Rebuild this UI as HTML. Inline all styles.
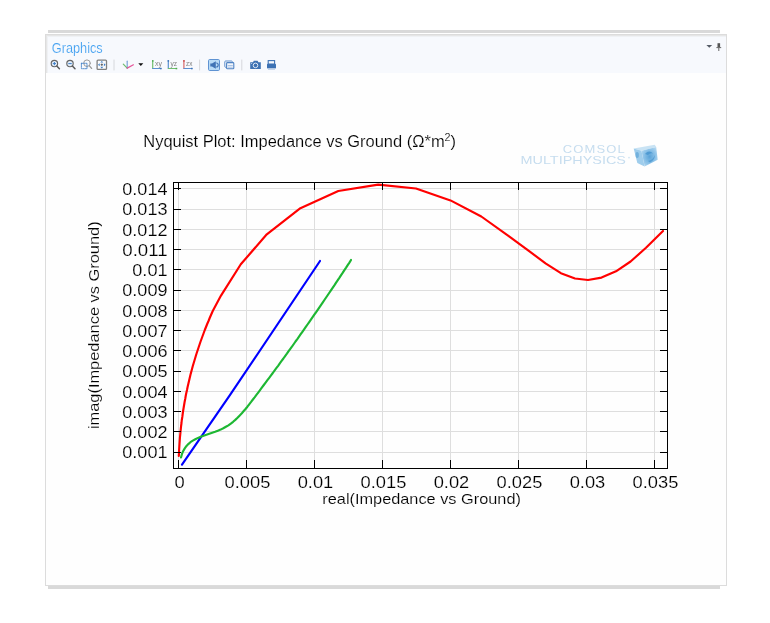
<!DOCTYPE html>
<html><head><meta charset="utf-8"><style>
html,body{margin:0;padding:0;background:#fff;width:770px;height:623px;overflow:hidden;position:relative;font-family:"Liberation Sans",sans-serif}
.topbar{position:absolute;left:48px;top:30px;width:672px;height:3px;background:#d9d9d9}
.botbar{position:absolute;left:48px;top:586px;width:672px;height:3px;background:#d9d9d9}
.panel{position:absolute;left:45px;top:34px;width:680px;height:550px;border:1px solid #dcdcdc;background:#fefefe}
.hdr{position:absolute;left:0;top:0;width:679px;height:37px;background:#f7f9fd;border-top:1px solid #e6e6e6;border-left:1px solid #e6e6e6;box-shadow:inset 1px 1px 0 #eff1f4}
</style></head><body>
<div class="topbar"></div>
<div class="panel"><div class="hdr"></div></div>
<div class="botbar"></div>
<svg width="770" height="623" viewBox="0 0 770 623" style="position:absolute;left:0;top:0;will-change:transform">

<g fill="none" stroke-linecap="round">
 <!-- zoom in -->
 <circle cx="54.4" cy="63.6" r="3.2" fill="#e3eefa" stroke="#666" stroke-width="1.15"/>
 <path d="M56.8 66.1 L59.4 68.8" stroke="#5c5c5c" stroke-width="1.5"/>
 <path d="M54.4 62.4 V64.8 M53.2 63.6 H55.6" stroke="#3f7fc8" stroke-width="1"/>
 <!-- zoom out -->
 <circle cx="70" cy="63.6" r="3.2" fill="#e3eefa" stroke="#666" stroke-width="1.15"/>
 <path d="M72.4 66.1 L75 68.8" stroke="#5c5c5c" stroke-width="1.5"/>
 <path d="M68.7 63.6 H71.3" stroke="#3f7fc8" stroke-width="1"/>
 <!-- zoom box -->
 <circle cx="87" cy="63.2" r="3.3" stroke="#9a9a9a" stroke-width="1"/>
 <path d="M89.4 65.8 L91.6 68.4" stroke="#999" stroke-width="1.3"/>
 <rect x="81.4" y="63.3" width="5.6" height="5.4" stroke="#4a86c8" stroke-width="0.9" stroke-dasharray="1.4 0.9"/>
 <!-- zoom extents -->
 <rect x="97.1" y="60.1" width="9.4" height="9.2" rx="0.9" fill="#fbfcfe" stroke="#808080" stroke-width="1.3"/>
 <path d="M101.8 63.9 V65.5 M101 64.7 H102.6" stroke="#555" stroke-width="0.9"/>
 <g fill="#3a7cc6" stroke="none">
  <path d="M100.3 62.6 L101.8 60.9 L103.3 62.6Z"/><path d="M100.3 66.8 L101.8 68.5 L103.3 66.8Z"/>
  <path d="M99.7 63.2 L98 64.7 L99.7 66.2Z"/><path d="M103.9 63.2 L105.6 64.7 L103.9 66.2Z"/>
 </g>
 <!-- separators -->
 <path d="M114 60 V70 M199.6 60 V70 M241.8 60 V70" stroke="#d6d8dc" stroke-width="1"/>
 <!-- axes -->
 <path d="M127.2 68.1 V61.2" stroke="#7aa4d8" stroke-width="1.2"/>
 <path d="M127.2 68.1 L123.3 64.2" stroke="#6dbb6d" stroke-width="1.2"/>
 <path d="M127.2 68.1 L133.4 64.8" stroke="#e6559a" stroke-width="1.2"/>
 <path d="M138.3 63.2 H143.3 L140.8 65.9Z" fill="#111" stroke="none"/>
 <!-- xy yz zx -->
 <path d="M152.7 60.6 V68.5" stroke="#6fbf6f" stroke-width="1.2"/><path d="M152.7 68.5 H161" stroke="#5a8fd0" stroke-width="1"/>
 <path d="M168.3 60.6 V68.5" stroke="#5a8fd0" stroke-width="1.2"/><path d="M168.3 68.5 H176.7" stroke="#6fbf6f" stroke-width="1"/>
 <path d="M183.9 60.6 V68.5" stroke="#d86a6a" stroke-width="1.2"/><path d="M183.9 68.5 H192" stroke="#5a8fd0" stroke-width="1"/>
</g>
<g font-family="Liberation Sans, sans-serif" font-size="7.2" fill="#808080">
 <text x="154.9" y="65.9" textLength="7" lengthAdjust="spacingAndGlyphs">xy</text>
 <text x="170.4" y="65.9" textLength="6.6" lengthAdjust="spacingAndGlyphs">yz</text>
 <text x="186.1" y="65.9" textLength="6.4" lengthAdjust="spacingAndGlyphs">zx</text>
</g>
<g stroke="none">
 <rect x="152" y="60.2" width="1.5" height="1.5" fill="#4fa84f"/><rect x="160" y="67.8" width="1.6" height="1.5" fill="#3d74b8"/>
 <rect x="167.6" y="60.2" width="1.5" height="1.5" fill="#3d74b8"/><rect x="175.6" y="67.8" width="1.6" height="1.5" fill="#4fa84f"/>
 <rect x="183.2" y="60.2" width="1.5" height="1.5" fill="#c84848"/><rect x="191" y="67.8" width="1.6" height="1.5" fill="#3d74b8"/>
</g>
<!-- selected toggle -->
<rect x="208.5" y="59.5" width="11" height="11" rx="1.2" fill="#b9dcf7" stroke="#5f93d2" stroke-width="1"/>
<path d="M210.3 63.4 H212 L215.8 61.3 V68.7 L212 66.6 H210.3Z" fill="#3f73b5"/>
<path d="M216.2 63 A2 2 0 0 1 216.2 67" fill="none" stroke="#3f73b5" stroke-width="1.1"/>
<!-- stacked windows -->
<rect x="224.8" y="61" width="7.5" height="6.3" rx="0.8" fill="none" stroke="#5f8fcc" stroke-width="1"/>
<rect x="226.6" y="62.6" width="7.2" height="6.2" rx="0.8" fill="#f4f7fc" stroke="#4f83c4" stroke-width="1.1"/>
<path d="M227.8 65.5 H232.8 M227.8 67.2 H232.8" stroke="#9bb8de" stroke-width="0.8"/>
<!-- camera -->
<path d="M250.2 62.3 H253 L253.8 60.8 H257.6 L258.4 62.3 H260.8 V68.9 H250.2Z" fill="#3d72b4"/>
<circle cx="255.5" cy="65.4" r="2.3" fill="none" stroke="#dfe9f5" stroke-width="1"/>
<circle cx="251.6" cy="63.5" r="0.5" fill="#dfe9f5"/>
<!-- printer -->
<rect x="268.2" y="60.6" width="6.4" height="3.6" fill="none" stroke="#3d72b4" stroke-width="1.1"/>
<rect x="267" y="63.8" width="9" height="4.8" rx="0.8" fill="#3d72b4"/>
<rect x="268" y="68.4" width="7" height="1.6" fill="#c7d6ea"/>
<!-- top right -->
<path d="M706.4 44.9 H712.2 L709.3 47.8Z" fill="#555b66"/>
<rect x="717.5" y="43.2" width="2.6" height="4" fill="#555"/>
<path d="M716.4 47.6 H721.2 M718.8 47.6 V51" stroke="#666" stroke-width="1"/>

<text x="51.8" y="53.3" font-family="Liberation Sans, sans-serif" font-size="14" fill="#42a0f0" stroke="#f7f9fd" stroke-width="0.15" textLength="50.9" lengthAdjust="spacingAndGlyphs">Graphics</text>

<g fill="#c6ddef" font-family="Liberation Sans, sans-serif">
 <text x="562.7" y="152.6" font-size="11" textLength="63.3" lengthAdjust="spacingAndGlyphs" style="letter-spacing:1px">COMSOL</text>
 <text x="520.5" y="164.3" font-size="11" textLength="105.5" lengthAdjust="spacingAndGlyphs">MULTIPHYSICS</text>
 <circle cx="629" cy="157.6" r="0.9" fill="#d3e5f3"/>
</g>
<defs><radialGradient id="cg" cx="0.5" cy="0.5" r="0.6"><stop offset="0" stop-color="#5aa3d8"/><stop offset="0.6" stop-color="#8cc2e8"/><stop offset="1" stop-color="#b5d8f0"/></radialGradient></defs>
<path d="M633.7 148.4 L654.7 144.8 L656.2 147 L641.5 150.8Z" fill="#c9e3f4"/>
<path d="M633.7 148.4 L641.5 150.8 L644.6 166.4 L637.3 163.1Z" fill="#9fcdec"/>
<path d="M641.5 150.8 L656.2 147 L657.7 159.8 L644.6 166.4Z" fill="url(#cg)"/>
<ellipse cx="637.2" cy="155" rx="1.7" ry="3" fill="#4f9bd2" opacity="0.55"/>
<path d="M645 154 Q649 149.5 653 153.5 Q650 152.5 648 155Z" fill="#3d8fcc" opacity="0.7"/>
<path d="M648 161 Q653 160 655 155 Q655 160 650 162.5Z" fill="#3d8fcc" opacity="0.6"/>

<path d="M178.5 183 V468 M246.5 183 V468 M314.5 183 V468 M382.5 183 V468 M450.5 183 V468 M518.5 183 V468 M586.5 183 V468 M654.5 183 V468 M174 188.5 H667 M174 209.5 H667 M174 229.5 H667 M174 249.5 H667 M174 269.5 H667 M174 290.5 H667 M174 310.5 H667 M174 330.5 H667 M174 350.5 H667 M174 371.5 H667 M174 391.5 H667 M174 411.5 H667 M174 431.5 H667 M174 452.5 H667" stroke="#dedede" stroke-width="1" fill="none" shape-rendering="crispEdges"/>
<polyline points="178.8,456.0 179.0,453.0 179.1,450.0 179.3,447.0 179.5,444.0 179.7,441.0 179.9,438.0 180.2,435.0 180.5,432.0 180.8,429.0 181.1,426.0 181.5,423.0 181.8,420.0 182.3,417.0 182.7,414.0 183.1,411.0 183.6,408.0 184.1,405.0 184.6,402.0 185.2,399.0 185.7,396.0 186.3,393.0 187.0,390.0 187.6,387.0 188.3,384.0 189.0,381.0 189.7,378.0 190.4,375.0 191.2,372.0 192.0,369.0 192.8,366.0 193.7,363.0 194.6,360.0 195.5,357.0 196.4,354.0 197.4,351.0 198.4,348.0 199.4,345.0 200.4,342.0 201.5,339.0 202.6,336.0 203.7,333.0 204.8,330.0 206.0,327.0 207.2,324.0 208.5,321.0 209.7,318.0 211.0,315.0 212.3,312.0 213.0,310.6 221.0,295.6 240.8,264.3 266.8,234.3 300.4,208.2 338.3,191.0 378.2,184.6 416.0,188.5 450.5,200.4 481.3,216.5 509.1,236.4 529.5,251.4 545.9,263.6 560.9,273.2 575.0,278.5 588.0,280.0 601.5,277.6 616.0,271.3 630.6,261.5 646.0,247.8 663.0,230.9" stroke="#ff0000" stroke-width="2.15" fill="none" stroke-linejoin="round" stroke-linecap="round"/>
<polyline points="182.0,464.7 229.9,395.2 320.0,261.0" stroke="#0000ff" stroke-width="2.15" fill="none" stroke-linecap="round"/>
<polyline points="181.0,457.5 181.9,454.2 183.1,451.2 184.6,448.6 186.3,446.2 188.3,444.1 190.4,442.2 192.8,440.6 195.3,439.2 198.0,437.9 200.7,436.8 203.6,435.7 206.4,434.8 209.3,433.8 212.2,432.8 215.1,431.8 217.9,430.7 220.6,429.6 223.3,428.3 225.9,426.8 228.4,425.3 230.8,423.6 233.1,421.8 235.3,419.9 237.5,417.8 239.5,415.7 241.6,413.6 243.5,411.3 245.5,409.0 247.4,406.7 249.2,404.3 251.1,401.9 252.9,399.5 254.8,397.1 256.6,394.7 258.4,392.3 260.2,389.9 262.0,387.4 263.8,385.0 265.6,382.6 267.4,380.2 269.2,377.8 271.0,375.4 272.8,373.0 274.5,370.6 276.3,368.2 278.1,365.8 279.8,363.3 281.6,360.9 283.4,358.5 285.1,356.1 286.9,353.7 288.6,351.2 290.3,348.8 292.1,346.4 293.8,344.0 295.5,341.5 297.3,339.1 299.0,336.7 300.7,334.2 302.4,331.8 304.1,329.4 305.8,326.9 307.5,324.5 309.2,322.1 310.9,319.6 312.6,317.2 314.3,314.7 316.0,312.3 317.7,309.8 319.4,307.3 321.1,304.9 322.8,302.4 324.4,300.0 326.1,297.5 327.8,295.0 329.5,292.5 331.1,290.1 332.8,287.6 334.5,285.1 336.1,282.6 337.8,280.1 339.5,277.6 341.1,275.1 342.8,272.6 344.4,270.1 346.1,267.6 347.7,265.1 349.4,262.6 351.0,260.0" stroke="#1db733" stroke-width="2.15" fill="none" stroke-linejoin="round" stroke-linecap="round"/>
<path d="M173.5 182 V469 M173 468.5 H668 M667.5 182 V469 M173 182.5 H668" stroke="#000" stroke-width="1" fill="none" shape-rendering="crispEdges"/>
<path d="M178.5 468 v-8 M178.5 183 v7 M246.5 468 v-8 M246.5 183 v7 M314.5 468 v-8 M314.5 183 v7 M382.5 468 v-8 M382.5 183 v7 M450.5 468 v-8 M450.5 183 v7 M518.5 468 v-8 M518.5 183 v7 M586.5 468 v-8 M586.5 183 v7 M654.5 468 v-8 M654.5 183 v7 M174 188.5 h7 M667 188.5 h-7 M174 209.5 h7 M667 209.5 h-7 M174 229.5 h7 M667 229.5 h-7 M174 249.5 h7 M667 249.5 h-7 M174 269.5 h7 M667 269.5 h-7 M174 290.5 h7 M667 290.5 h-7 M174 310.5 h7 M667 310.5 h-7 M174 330.5 h7 M667 330.5 h-7 M174 350.5 h7 M667 350.5 h-7 M174 371.5 h7 M667 371.5 h-7 M174 391.5 h7 M667 391.5 h-7 M174 411.5 h7 M667 411.5 h-7 M174 431.5 h7 M667 431.5 h-7 M174 452.5 h7 M667 452.5 h-7" stroke="#000" stroke-width="1.3" fill="none" shape-rendering="crispEdges"/>
<g font-family="Liberation Sans, sans-serif" font-size="15" fill="#000" stroke="#fff" stroke-width="0.15">
<text x="179.5" y="488" font-size="16" text-anchor="middle" textLength="10.2" lengthAdjust="spacingAndGlyphs">0</text>
<text x="247.5" y="488" font-size="16" text-anchor="middle" textLength="45.8" lengthAdjust="spacingAndGlyphs">0.005</text>
<text x="315.5" y="488" font-size="16" text-anchor="middle" textLength="35.6" lengthAdjust="spacingAndGlyphs">0.01</text>
<text x="383.5" y="488" font-size="16" text-anchor="middle" textLength="45.8" lengthAdjust="spacingAndGlyphs">0.015</text>
<text x="451.5" y="488" font-size="16" text-anchor="middle" textLength="35.6" lengthAdjust="spacingAndGlyphs">0.02</text>
<text x="519.5" y="488" font-size="16" text-anchor="middle" textLength="45.8" lengthAdjust="spacingAndGlyphs">0.025</text>
<text x="587.5" y="488" font-size="16" text-anchor="middle" textLength="35.6" lengthAdjust="spacingAndGlyphs">0.03</text>
<text x="655.5" y="488" font-size="16" text-anchor="middle" textLength="45.8" lengthAdjust="spacingAndGlyphs">0.035</text>
<text x="122.3" y="195.2" font-size="16" textLength="45.2" lengthAdjust="spacingAndGlyphs">0.014</text>
<text x="122.3" y="215.4" font-size="16" textLength="45.2" lengthAdjust="spacingAndGlyphs">0.013</text>
<text x="122.3" y="235.7" font-size="16" textLength="45.2" lengthAdjust="spacingAndGlyphs">0.012</text>
<text x="122.3" y="255.9" font-size="16" textLength="45.2" lengthAdjust="spacingAndGlyphs">0.011</text>
<text x="132.3" y="276.1" font-size="16" textLength="35.2" lengthAdjust="spacingAndGlyphs">0.01</text>
<text x="122.3" y="296.4" font-size="16" textLength="45.2" lengthAdjust="spacingAndGlyphs">0.009</text>
<text x="122.3" y="316.6" font-size="16" textLength="45.2" lengthAdjust="spacingAndGlyphs">0.008</text>
<text x="122.3" y="336.8" font-size="16" textLength="45.2" lengthAdjust="spacingAndGlyphs">0.007</text>
<text x="122.3" y="357.0" font-size="16" textLength="45.2" lengthAdjust="spacingAndGlyphs">0.006</text>
<text x="122.3" y="377.3" font-size="16" textLength="45.2" lengthAdjust="spacingAndGlyphs">0.005</text>
<text x="122.3" y="397.5" font-size="16" textLength="45.2" lengthAdjust="spacingAndGlyphs">0.004</text>
<text x="122.3" y="417.7" font-size="16" textLength="45.2" lengthAdjust="spacingAndGlyphs">0.003</text>
<text x="122.3" y="438.0" font-size="16" textLength="45.2" lengthAdjust="spacingAndGlyphs">0.002</text>
<text x="122.3" y="458.2" font-size="16" textLength="45.2" lengthAdjust="spacingAndGlyphs">0.001</text>
<text x="322.3" y="504.1" textLength="198.6" lengthAdjust="spacingAndGlyphs">real(Impedance vs Ground)</text>
<text transform="translate(98.8,429.1) rotate(-90)" x="0" y="0" textLength="207.8" lengthAdjust="spacingAndGlyphs">imag(Impedance vs Ground)</text>
<text x="143.3" y="147.3" font-size="16" textLength="312.8" lengthAdjust="spacingAndGlyphs">Nyquist Plot: Impedance vs Ground (Ω*m<tspan dy="-6.5" font-size="10.5">2</tspan><tspan dy="6.5">)</tspan></text>
</g>
</svg>
</body></html>
